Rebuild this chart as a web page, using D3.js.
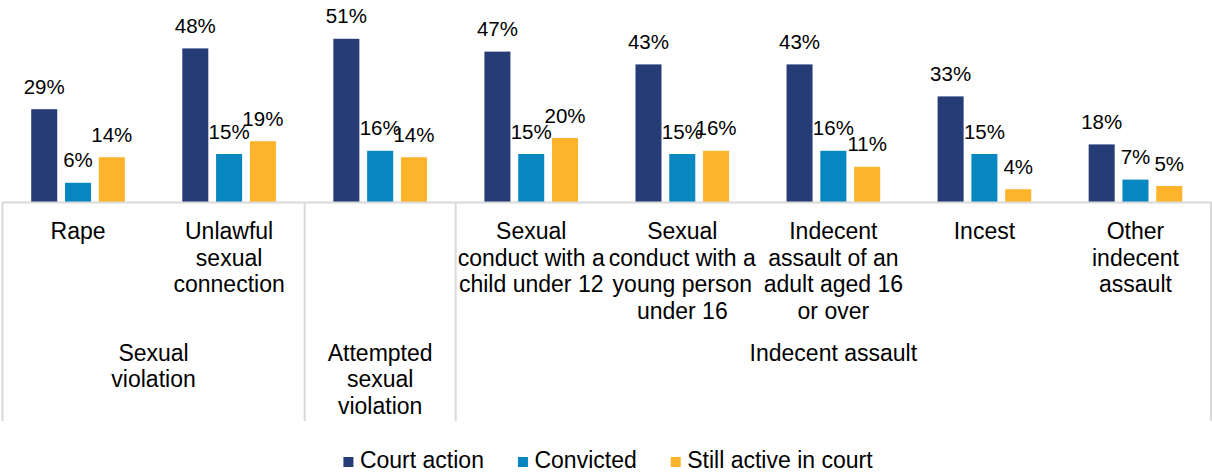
<!DOCTYPE html>
<html>
<head>
<meta charset="utf-8">
<script src="https://cdn.jsdelivr.net/npm/d3@7"></script>
<style>
  body { margin: 0; background: #fff; }
  svg text { font-family: "Liberation Sans", Arial, sans-serif; fill: #000; }
</style>
</head>
<body>
<div id="chart"></div>
<script>
// data
const categories = ["Rape", "Unlawful sexual connection", "Attempted sexual violation",
  "Sexual conduct with a child under 12", "Sexual conduct with a young person under 16",
  "Indecent assault of an adult aged 16 or over", "Incest", "Other indecent assault"];
const categoryLines = [["Rape"], ["Unlawful", "sexual", "connection"], [],
  ["Sexual", "conduct with a", "child under 12"],
  ["Sexual", "conduct with a", "young person", "under 16"],
  ["Indecent", "assault of an", "adult aged 16", "or over"],
  ["Incest"], ["Other", "indecent", "assault"]];
const groupLines = [["Sexual", "violation"], ["Attempted", "sexual", "violation"], ["Indecent assault"]];
const groupFirst = [0, 2, 3];
const groupLast = [1, 2, 7];
const seriesNames = ["Court action", "Convicted", "Still active in court"];
const courtAction = [29, 48, 51, 47, 43, 43, 33, 18];
const convicted = [6, 15, 16, 15, 15, 16, 15, 7];
const stillActive = [14, 19, 14, 20, 16, 11, 4, 5];
const colors = ["#263c76", "#0787bf", "#fdb42b"];

const width = 1212, height = 473;
const margin = { left: 2.5, right: 1, top: 10 };
const baseY = 202;

const svg = d3.select("#chart").append("svg")
  .attr("width", width)
  .attr("height", height);

const x0 = d3.scaleBand()
  .domain(categories)
  .range([margin.left, width - margin.right])
  .padding(0);

const x1 = d3.scaleBand()
  .domain(seriesNames)
  .range([0, x0.bandwidth()])
  .paddingInner(0.23)
  .paddingOuter(0.85);

const y = d3.scaleLinear()
  .domain([0, 60])
  .range([baseY, margin.top]);

const rows = categories.map((c, i) => ({
  cat: c,
  values: [courtAction[i], convicted[i], stillActive[i]]
}));

const groups = svg.selectAll("g.cat")
  .data(rows)
  .join("g")
  .attr("class", "cat")
  .attr("transform", d => `translate(${x0(d.cat)},0)`);

groups.selectAll("rect")
  .data(d => d.values.map((v, j) => ({ s: seriesNames[j], v, j })))
  .join("rect")
  .attr("x", d => x1(d.s))
  .attr("y", d => y(d.v))
  .attr("width", x1.bandwidth())
  .attr("height", d => baseY - y(d.v))
  .attr("fill", d => colors[d.j]);

groups.selectAll("text.val")
  .data(d => d.values.map((v, j) => ({ s: seriesNames[j], v })))
  .join("text")
  .attr("class", "val")
  .attr("x", d => x1(d.s) + x1.bandwidth() / 2)
  .attr("y", d => y(d.v) - 15.5)
  .attr("text-anchor", "middle")
  .style("font-size", "20.5px")
  .text(d => d.v + "%");

// category axis
const xAxis = svg.append("g")
  .attr("class", "x-axis")
  .attr("transform", `translate(0,${baseY})`)
  .call(d3.axisBottom(x0).tickSize(0).tickSizeOuter(0));

xAxis.select(".domain")
  .attr("stroke", "#d9d9d9")
  .attr("stroke-width", 2);

xAxis.selectAll(".tick text")
  .attr("y", 0)
  .attr("dy", null)
  .style("font-size", "23px")
  .attr("fill", "#000")
  .text(null)
  .each(function(d) {
    const lines = categoryLines[categories.indexOf(d)];
    d3.select(this).selectAll("tspan")
      .data(lines)
      .join("tspan")
      .attr("x", 0)
      .attr("y", (l, k) => 37 + k * 26.5)
      .text(l => l);
  });

// group separators
const bounds = [];
groupFirst.forEach((f, i) => {
  bounds.push(x0(categories[f]));
  if (i === groupFirst.length - 1) bounds.push(x0(categories[groupLast[i]]) + x0.bandwidth());
});

svg.selectAll("line.sep")
  .data(bounds)
  .join("line")
  .attr("class", "sep")
  .attr("x1", d => d).attr("x2", d => d)
  .attr("y1", baseY).attr("y2", 421)
  .attr("stroke", "#d9d9d9")
  .attr("stroke-width", 2);

// group labels
groupLines.forEach((lines, i) => {
  const cx = (x0(categories[groupFirst[i]]) + x0(categories[groupLast[i]]) + x0.bandwidth()) / 2;
  svg.append("text")
    .attr("text-anchor", "middle")
    .style("font-size", "23px")
    .selectAll("tspan")
    .data(lines)
    .join("tspan")
    .attr("x", cx)
    .attr("y", (l, k) => 360.7 + k * 26.5)
    .text(l => l);
});

// legend
const legend = svg.append("g").attr("class", "legend");
let lx = 0;
seriesNames.forEach((name, i) => {
  const item = legend.append("g").attr("transform", `translate(${lx},0)`);
  item.append("rect")
    .attr("x", 0).attr("y", 457)
    .attr("width", 10).attr("height", 10)
    .attr("fill", colors[i]);
  const t = item.append("text")
    .attr("x", 16.5).attr("y", 467.5)
    .style("font-size", "23px")
    .text(name);
  lx += 16.5 + t.node().getComputedTextLength() + 34;
});
const legendWidth = lx - 34;
legend.attr("transform", `translate(${(width - legendWidth) / 2 + 2},0)`);
</script>
</body>
</html>
